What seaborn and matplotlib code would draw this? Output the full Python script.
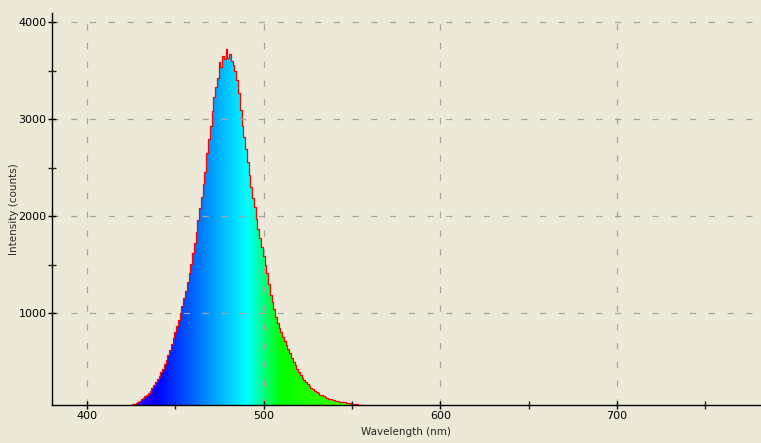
import numpy as np
import pandas as pd
import matplotlib
matplotlib.use("Agg")
import matplotlib.pyplot as plt
from matplotlib.colors import LinearSegmentedColormap
import seaborn as sns

# spectrum sampled every 1 nm from 424 nm to 556 nm
wavelength = np.arange(424, 557)
intensity = [45, 52, 58, 66, 74, 84, 96, 110, 124, 141,
             160, 178, 200, 226, 255, 286, 320, 352, 390, 428,
             470, 520, 570, 622, 680, 740, 800, 862, 930, 1000,
             1070, 1150, 1230, 1318, 1410, 1510, 1615, 1725, 1840, 1960,
             2080, 2200, 2330, 2450, 2650, 2790, 2930, 3080, 3230, 3330,
             3420, 3590, 3540, 3650, 3620, 3720, 3630, 3670, 3600, 3560,
             3490, 3400, 3270, 3090, 2930, 2810, 2690, 2560, 2420, 2300,
             2190, 2090, 1970, 1870, 1770, 1680, 1590, 1500, 1410, 1300,
             1190, 1110, 1040, 960, 900, 850, 800, 755, 710, 668,
             630, 585, 540, 498, 460, 425, 395, 362, 335, 312,
             290, 268, 250, 232, 215, 199, 185, 172, 160, 150,
             140, 132, 125, 118, 112, 106, 100, 96, 92, 88,
             85, 81, 78, 75, 72, 69, 66, 63, 60, 58,
             55, 53, 50]

x_ticks = [400, 500, 600, 700]
x_minor = [450, 550, 650, 750]
y_ticks = [1000, 2000, 3000, 4000]
y_minor = [1500, 2500, 3500]

grad_pos = [420, 427, 440, 459, 478, 491, 500, 510, 553, 560]
grad_col = ["#3000ff", "#3000ff", "#0000ff", "#0060ff", "#00c0ff", "#00ffff",
            "#00ff80", "#00ff00", "#50ff00", "#50ff00"]

df = pd.DataFrame({"Wavelength": wavelength, "Intensity": intensity})

bg = "#ECE9D8"
sns.set_style("ticks")
plt.rcParams["font.family"] = ["DejaVu Sans"]

fig = plt.figure(figsize=(7.61, 4.43), dpi=100, facecolor=bg)
ax = fig.add_axes([52 / 761, (443 - 405) / 443, (760 - 52) / 761, (405 - 13) / 443])
ax.set_facecolor(bg)

xmin, xmax = 380.2, 781
ymin, ymax = 52, 4093
ax.set_xlim(xmin, xmax)
ax.set_ylim(ymin, ymax)

# gradient fill clipped to spectrum
lo, hi = grad_pos[0], grad_pos[-1]
stops = [((p - lo) / (hi - lo), c) for p, c in zip(grad_pos, grad_col)]
cmap = LinearSegmentedColormap.from_list("spec", stops)
grad = np.linspace(0, 1, 512).reshape(1, -1)
poly = ax.fill_between(df["Wavelength"], ymin, df["Intensity"], step="mid",
                       facecolor="none", edgecolor="none")
im = ax.imshow(grad, extent=[lo, hi, ymin, ymax], aspect="auto", cmap=cmap,
               origin="lower", zorder=1, interpolation="bilinear")
im.set_clip_path(poly.get_paths()[0], transform=ax.transData)

sns.lineplot(data=df, x="Wavelength", y="Intensity", ax=ax, color="red",
             linewidth=0.9, drawstyle="steps-mid", zorder=2)

ax.set_xticks(x_ticks)
ax.set_yticks(y_ticks)
ax.set_xticks(x_minor, minor=True)
ax.set_yticks(y_minor, minor=True)
ax.set_axisbelow(False)
ax.grid(True, which="major", color="#a4a4a0", linestyle=(0, (5, 10)), linewidth=0.9,
        zorder=3)
for gl in ax.get_xgridlines() + ax.get_ygridlines():
    gl.set_zorder(3)

for s in ["top", "right"]:
    ax.spines[s].set_visible(False)
for s in ["left", "bottom"]:
    ax.spines[s].set_color("black")
    ax.spines[s].set_linewidth(1.0)
    ax.spines[s].set_zorder(4)

ax.tick_params(which="major", direction="inout", length=6, width=1, labelsize=8,
               colors="black", pad=1)
ax.tick_params(which="minor", direction="inout", length=6, width=1)
ax.set_xlabel("Wavelength (nm)", fontsize=7.5)
ax.set_ylabel("Intensity (counts)", fontsize=7.5)
ax.yaxis.set_label_coords((14 - 52) / 708, 0.5)
ax.xaxis.set_label_coords(0.5, (405 - 432) / 392)
ax.xaxis.label.set_va("center")
ax.yaxis.label.set_va("center")

fig.savefig("out.png", dpi=100, facecolor=bg)
